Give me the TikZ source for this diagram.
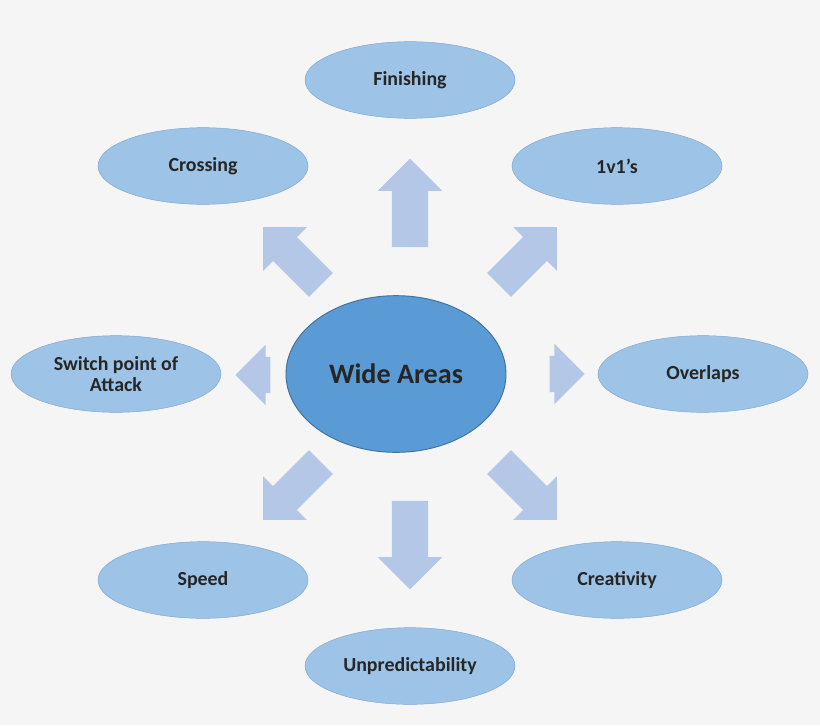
\documentclass[tikz,border=0pt]{standalone}
\usepackage{fontspec}
\setmainfont{Carlito}
\usetikzlibrary{shapes.geometric,shapes.arrows}
\definecolor{bgcol}{HTML}{F5F5F6}
\definecolor{hubcol}{HTML}{5B9BD5}
\definecolor{hubline}{HTML}{41719C}
\definecolor{leafcol}{HTML}{9DC3E6}
\definecolor{leafline}{HTML}{7FA7D3}
\definecolor{arrcol}{HTML}{B4C7E7}
\tikzset{
  leaf/.style={ellipse,draw=leafline,fill=leafcol,minimum width=6.3cm,minimum height=2.3cm,
    font=\bfseries\fontsize{17}{18}\selectfont,align=center,text=black!85},
  hub/.style={ellipse,draw=hubline,thick,fill=hubcol,minimum width=6.6cm,minimum height=4.7cm,
    font=\bfseries\fontsize{24}{26}\selectfont,text=black!85},
  bigarr/.style={single arrow,fill=arrcol,draw=none,inner xsep=0pt,inner ysep=0.54cm,
    minimum height=2.65cm,single arrow head extend=0.42cm,single arrow tip angle=90},
  diagarr/.style={bigarr,minimum height=2.45cm,inner ysep=0.5cm},
  smallarr/.style={bigarr,minimum height=1.05cm,inner ysep=0.54cm,single arrow head extend=0.36cm}
}
\begin{document}
\begin{tikzpicture}[x=0.03cm,y=-0.03cm]
% background
\fill[bgcol] (0,0) rectangle (820,725);
\useasboundingbox (0,0) rectangle (820,725);

% hub
\node[hub] (wide) at (396,374) {Wide Areas};

% arrows
\node[bigarr,rotate=90] (aup) at (410,212) {};
\node[diagarr,rotate=45] (ane) at (522,262) {};
\node[diagarr,rotate=135] (anw) at (298,262) {};
\node[smallarr,rotate=180] (aleft) at (262,375) {};
\node[smallarr] (aright) at (558,374) {};
\node[diagarr,rotate=225] (asw) at (298,485) {};
\node[bigarr,rotate=270] (adown) at (410,536) {};
\node[diagarr,rotate=-45] (ase) at (522,485) {};

% leaves
\node[leaf] (finish) at (410,80) {Finishing};
\node[leaf] (cross) at (203,166) {Crossing};
\node[leaf] (onevone) at (617,166) {1v1’s};
\node[leaf] (switch) at (116,374) {Switch point of\\Attack};
\node[leaf] (overlap) at (703,374) {Overlaps};
\node[leaf] (speed) at (203,580) {Speed};
\node[leaf] (creat) at (617,580) {Creativity};
\node[leaf] (unpred) at (410,666) {Unpredictability};
\end{tikzpicture}
\end{document}
